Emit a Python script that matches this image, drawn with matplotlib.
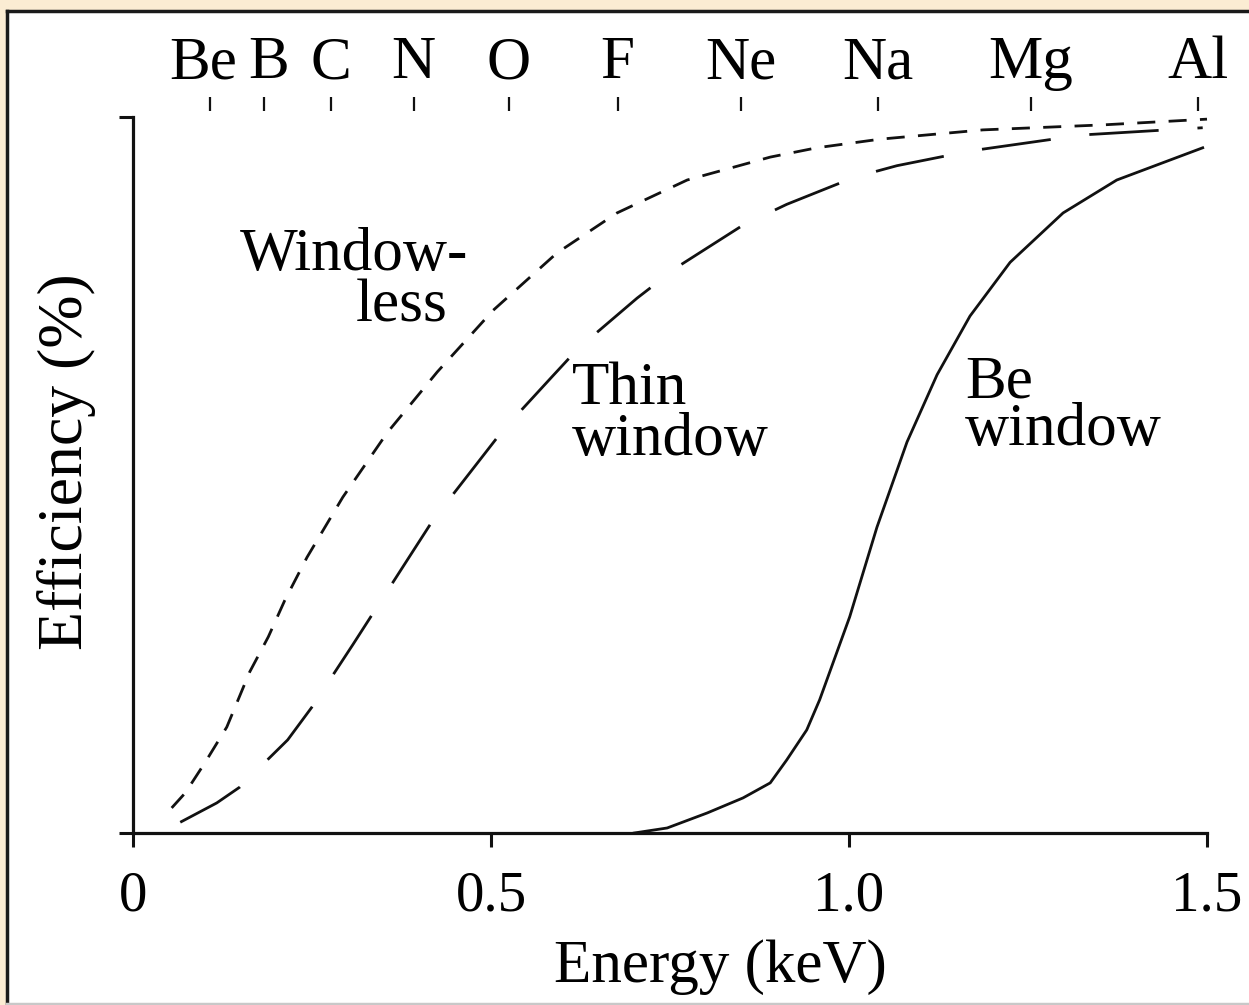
import matplotlib
matplotlib.use("Agg")
import matplotlib.pyplot as plt
from matplotlib.patches import Rectangle
from matplotlib.lines import Line2D

plt.rcParams["font.family"] = ["Liberation Serif", "DejaVu Serif"]

# Detector efficiency curves
windowless_x = [0.054, 0.073, 0.101, 0.131, 0.163, 0.189, 0.212, 0.243, 0.293, 0.355, 0.425,
                0.503, 0.592, 0.676, 0.774, 0.890, 0.955, 1.043, 1.187, 1.355, 1.500]
windowless_y = [3.5, 5.6, 9.9, 14.8, 22.5, 27.4, 32.5, 38.5, 46.9, 55.9, 64.4,
                73.0, 81.0, 86.6, 91.2, 94.4, 95.7, 96.9, 98.2, 98.9, 99.7]

thin_x = [0.066, 0.117, 0.149, 0.216, 0.250, 0.307, 0.390, 0.419, 0.482, 0.517, 0.585,
          0.622, 0.704, 0.761, 0.852, 0.913, 1.008, 1.067, 1.172, 1.327, 1.494]
thin_y = [1.5, 4.2, 6.4, 13.0, 17.6, 26.3, 39.2, 43.7, 51.8, 56.3, 63.7,
          67.7, 74.7, 79.1, 84.9, 87.8, 91.6, 93.2, 95.3, 97.5, 98.5]

be_x = [0.700, 0.746, 0.802, 0.852, 0.890, 0.913, 0.941, 0.959, 1.001, 1.039, 1.081,
        1.123, 1.169, 1.225, 1.299, 1.374, 1.494]
be_y = [0.0, 0.7, 2.8, 4.9, 7.0, 10.2, 14.4, 18.6, 30.2, 42.7, 54.6,
        64.0, 72.2, 79.7, 86.6, 91.2, 95.7]

# K-alpha energies of light elements (keV)
elements = ["Be", "B", "C", "N", "O", "F", "Ne", "Na", "Mg", "Al"]
element_kev = [0.108, 0.183, 0.277, 0.392, 0.525, 0.677, 0.849, 1.041, 1.254, 1.487]

x_ticks = [0, 0.5, 1.0, 1.5]
x_tick_labels = ["0", "0.5", "1.0", "1.5"]

W, H = 1249, 1005
fig = plt.figure(figsize=(W / 100, H / 100), dpi=100)
fig.patch.set_facecolor("#fbecd3")

# white panel with dark top/left edge, kept behind the axes
fig.patches.append(Rectangle((7 / W, 0), 1, 1 - 11 / H, transform=fig.transFigure,
                             facecolor="white", edgecolor="none", zorder=-10))
for xs, ys, c in [([7 / W, 1], [1 - 11 / H] * 2, "#1a1a1a"),
                  ([7 / W] * 2, [0, 1 - 11 / H], "#1a1a1a"),
                  ([7 / W, 1], [1.5 / H] * 2, "#c8c8c8")]:
    fig.lines.append(Line2D(xs, ys, transform=fig.transFigure, color=c, lw=2.5, zorder=-5))

ax = fig.add_axes([133 / W, 1 - 833 / H, (1207 - 133) / W, (833 - 117) / H])
ax.set_facecolor("none")
ax.set_xlim(0, 1.5)
ax.set_ylim(0, 100)

ax.plot(windowless_x, windowless_y, color="#111111", lw=2.0, dashes=(6.5, 4.8),
        clip_on=False, solid_joinstyle="round", dash_joinstyle="round")
ax.plot(thin_x, thin_y, color="#111111", lw=2.0, dashes=(25, 14), clip_on=False,
        dash_joinstyle="round")
ax.plot(be_x, be_y, color="#111111", lw=2.0, clip_on=False, solid_joinstyle="round")

fs = 44
ax.text(0.149, 78.6, "Window-", fontsize=fs, ha="left", va="baseline")
ax.text(0.440, 71.4, "less", fontsize=fs, ha="right", va="baseline")
ax.text(0.613, 51.0, "Thin\nwindow", fontsize=fs, ha="left", va="bottom",
        linespacing=0.88)
ax.text(1.162, 52.4, "Be\nwindow", fontsize=fs, ha="left", va="bottom",
        linespacing=0.81)

for side in ["top", "right"]:
    ax.spines[side].set_visible(False)
for side in ["left", "bottom"]:
    ax.spines[side].set_linewidth(2.3)
    ax.spines[side].set_color("#111111")

ax.set_xticks(x_ticks)
ax.set_xticklabels(x_tick_labels)
ax.set_yticks([0, 100])
ax.set_yticklabels([])
ax.tick_params(axis="both", direction="out", length=10, width=2.2, color="#111111",
               labelsize=41, pad=17)

ax.set_xlabel("Energy (keV)", fontsize=44)
ax.xaxis.set_label_coords(0.547, -0.148)
ax.set_ylabel("Efficiency (%)", fontsize=46)
ax.yaxis.set_label_coords(-0.0345, 0.518)

# element markers along the top
top = ax.twiny()
top.set_xlim(ax.get_xlim())
for side in ["top", "bottom", "left", "right"]:
    top.spines[side].set_visible(False)
top.spines["top"].set_position(("outward", 4))
top.set_xticks(element_kev)
top.tick_params(axis="x", direction="out", length=10, width=1.6, color="#111111",
                labeltop=False)

nudge_px = {"Be": -7, "B": 5}
for name, kev in zip(elements, element_kev):
    top.annotate(name, xy=(kev, 1), xycoords=("data", "axes fraction"),
                 xytext=(nudge_px.get(name, 0), 39), textcoords="offset pixels",
                 ha="center", va="baseline", fontsize=44, annotation_clip=False)

fig.savefig("out.png", dpi=100, facecolor=fig.get_facecolor())
